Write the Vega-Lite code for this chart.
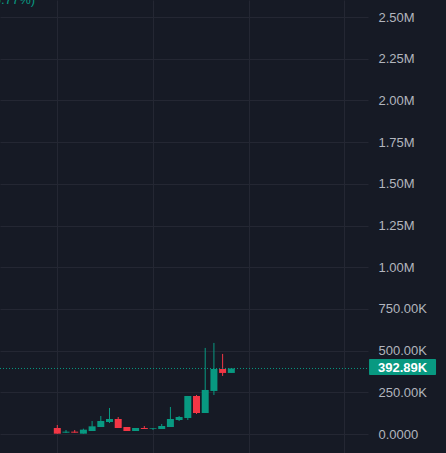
{
  "$schema": "https://vega.github.io/schema/vega-lite/v6.json",
  "width": 368,
  "height": 453,
  "autosize": "none",
  "padding": {"left": 0, "top": 0, "right": 78, "bottom": 0},
  "background": "#161a25",
  "config": {"view": {"stroke": null}},
  "data": {"values": [
    {"i": 1, "o": 36000, "h": 54000, "l": 2000, "c": 2000},
    {"i": 2, "o": 8000, "h": 24000, "l": 6000, "c": 14000},
    {"i": 3, "o": 14000, "h": 24000, "l": 8000, "c": 8000},
    {"i": 4, "o": 2000, "h": 32000, "l": 2000, "c": 26000},
    {"i": 5, "o": 18000, "h": 78000, "l": 18000, "c": 46000},
    {"i": 6, "o": 42000, "h": 108000, "l": 42000, "c": 78000},
    {"i": 7, "o": 72000, "h": 156000, "l": 66000, "c": 90000},
    {"i": 8, "o": 90000, "h": 102000, "l": 36000, "c": 36000},
    {"i": 9, "o": 42000, "h": 42000, "l": 18000, "c": 18000},
    {"i": 10, "o": 18000, "h": 36000, "l": 18000, "c": 36000},
    {"i": 11, "o": 36000, "h": 48000, "l": 30000, "c": 30000},
    {"i": 12, "o": 32000, "h": 36000, "l": 24000, "c": 36000},
    {"i": 13, "o": 30000, "h": 60000, "l": 30000, "c": 48000},
    {"i": 14, "o": 42000, "h": 162000, "l": 42000, "c": 90000},
    {"i": 15, "o": 84000, "h": 108000, "l": 78000, "c": 102000},
    {"i": 16, "o": 96000, "h": 228000, "l": 84000, "c": 228000},
    {"i": 17, "o": 228000, "h": 234000, "l": 120000, "c": 126000},
    {"i": 18, "o": 126000, "h": 516000, "l": 126000, "c": 264000},
    {"i": 19, "o": 258000, "h": 546000, "l": 234000, "c": 390000},
    {"i": 20, "o": 390000, "h": 480000, "l": 348000, "c": 366000},
    {"i": 21, "o": 366000, "h": 392890, "l": 366000, "c": 392890}
  ]},
  "encoding": {
    "x": {
      "field": "i", "type": "quantitative",
      "scale": {"domain": [-5.586, 36.71], "nice": false, "zero": false, "padding": 0},
      "axis": {"values": [1, 12, 23, 34], "labels": false, "ticks": false, "domain": false, "title": null, "grid": true, "gridColor": "#242733", "gridWidth": 1}
    },
    "y": {
      "type": "quantitative",
      "scale": {"domain": [-113900, 2602000], "nice": false, "zero": false, "padding": 0},
      "axis": {
        "orient": "right", "title": null, "domain": false, "ticks": false,
        "values": [0, 250000, 500000, 750000, 1000000, 1250000, 1500000, 1750000, 2000000, 2250000, 2500000],
        "labelExpr": "datum.value == 0 ? '0.0000' : (datum.value >= 1000000 ? format(datum.value/1000000, '.2f') + 'M' : format(datum.value/1000, '.2f') + 'K')",
        "labelAlign": "left", "labelPadding": 10, "labelColor": "#b2b5be", "labelFontSize": 13, "labelFont": "Liberation Sans",
        "grid": true, "gridColor": "#242733", "gridWidth": 1
      }
    }
  },
  "layer": [
    {
      "mark": {"type": "rule", "strokeWidth": 1},
      "encoding": {
        "y": {"field": "l", "type": "quantitative"},
        "y2": {"field": "h"},
        "color": {"condition": {"test": "datum.c >= datum.o", "value": "#089981"}, "value": "#f23645"}
      }
    },
    {
      "mark": {"type": "bar", "size": 7},
      "encoding": {
        "y": {"field": "o", "type": "quantitative"},
        "y2": {"field": "c"},
        "color": {"condition": {"test": "datum.c >= datum.o", "value": "#089981"}, "value": "#f23645"}
      }
    },
    {
      "transform": [{"filter": "datum.i == 21"}],
      "mark": {"type": "rule", "color": "#089981", "strokeDash": [1, 2], "strokeWidth": 1},
      "encoding": {"y": {"field": "c", "type": "quantitative"}, "x": {"datum": -5.586}, "x2": {"datum": 36.71}}
    },
    {
      "transform": [{"filter": "datum.i == 21"}],
      "mark": {"type": "rect", "color": "#089981", "cornerRadius": 1},
      "encoding": {"x": {"datum": 36.83}, "x2": {"datum": 44.53}, "y": {"datum": 449600}, "y2": {"datum": 353700}}
    },
    {
      "transform": [{"filter": "datum.i == 21"}],
      "mark": {"type": "text", "color": "#ffffff", "font": "Liberation Sans", "fontSize": 13, "fontWeight": "bold", "align": "center", "baseline": "middle"},
      "encoding": {"x": {"datum": 40.68}, "y": {"field": "c", "type": "quantitative"}, "text": {"value": "392.89K"}}
    },
    {
      "transform": [{"filter": "datum.i == 21"}],
      "mark": {"type": "text", "color": "#089981", "font": "Liberation Sans", "fontSize": 13, "align": "right", "baseline": "alphabetic"},
      "encoding": {"x": {"datum": -1.56}, "y": {"datum": 2578000}, "text": {"value": "(+5.77%)"}}
    }
  ]
}
